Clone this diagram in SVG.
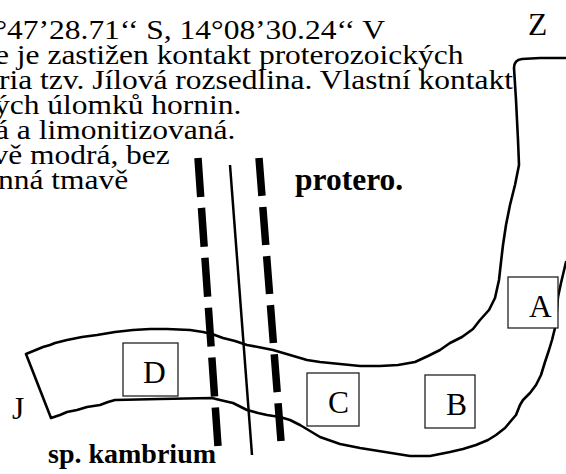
<svg xmlns="http://www.w3.org/2000/svg" width="566" height="474" viewBox="0 0 566 474">
  <style>
    .t { font-family: "Liberation Serif", "Times New Roman", serif; font-size: 31.5px; fill: #000; }
    .s { font-family: "Liberation Serif", "Times New Roman", serif; font-size: 27.5px; fill: #000; }
    .b { font-weight: bold; }
    .outline { fill: none; stroke: #000; stroke-width: 2.6; stroke-linejoin: round; stroke-linecap: round; }
    .box { fill: #fff; stroke: #222; stroke-width: 1.3; }
    .fault { fill: none; stroke: #000; stroke-width: 7.5; stroke-linecap: butt; }
    .axis { fill: none; stroke: #000; stroke-width: 2.5; }
  </style>

  <!-- description text, cut at the left margin (wide setting) -->
  <g id="description">
    <text class="s" transform="translate(-5.5,39) scale(1.145,1)">°47’28.71‘‘ S, 14°08’30.24‘‘ V</text>
    <text class="s" transform="translate(-5,64) scale(1.145,1)">e je zastižen kontakt proterozoických</text>
    <text class="s" transform="translate(-1,89) scale(1.145,1)">ria tzv. Jílová rozsedlina. Vlastní kontakt</text>
    <text class="s" transform="translate(-6,114) scale(1.145,1)">ých úlomků hornin.</text>
    <text class="s" transform="translate(-5,139) scale(1.145,1)">á a limonitizovaná.</text>
    <text class="s" transform="translate(-7.6,164) scale(1.145,1)">vě modrá, bez</text>
    <text class="s" transform="translate(-2,189) scale(1.145,1)">nná tmavě</text>
  </g>

  <!-- outcrop outline: hook-shaped band -->
  <g id="outcrop">
    <path class="outline" d="M566,58 L540,58 L522,59 Q514,60 514,68 L516,100 L518,140 L519,165 L515,185 L510,205 L506,225 L503,245 L501,262 L499,280 L495,298 L489,310 L480,320 L473,329 L462,337 L450,343 L440,350 L428,356 L415,362 L398,365 L380,366 L360,366 L340,364 L320,362 L307,360 L290,355 L273,350 L258,347 L247,345 L235,341 L223,338 L212,334 L203,332 L190,330 L167,329 L150,329 L133,330 L115,332 L97,335 L82,337 L67,340 L55,343 L50,345 L43,347 L26,354 L51,418 L60,415 L67,412 L77,410 L87,407 L100,405 L108,402 L115,400 L160,399 L212,398 L220,400 L233,403 L247,410 L258,413 L267,415 L280,417 L290,420 L300,425 L310,431 L320,437 L340,444 L360,448 L385,452 L410,456 L430,456 L450,452 L463,449 L476,445 L488,440 L496,435 L505,428 L510,422 L516,415 L520,405 L523,400 L530,393 L536,385 L541,375 L545,362 L549,350 L552,340 L555,328 L557,310 L558,297 L561,283 L566,262"/>
  </g>

  <!-- fault zone: two dashed margins and the central plane -->
  <g id="fault-zone">
    <line class="fault" x1="198" y1="158" x2="218" y2="446" stroke-dasharray="39 11"/>
    <line class="axis" x1="230" y1="165" x2="252" y2="455"/>
    <line class="fault" x1="259" y1="158" x2="281" y2="441" stroke-dasharray="38 11.2"/>
  </g>

  <!-- sampling points -->
  <g id="point-A">
    <rect class="box" x="508" y="277" width="50" height="51"/>
    <text class="t" x="529" y="317">A</text>
  </g>
  <g id="point-B">
    <rect class="box" x="425" y="375" width="50" height="53"/>
    <text class="t" x="446" y="415">B</text>
  </g>
  <g id="point-C">
    <rect class="box" x="307" y="373" width="52" height="53"/>
    <text class="t" x="328" y="413">C</text>
  </g>
  <g id="point-D">
    <rect class="box" x="123" y="343" width="55" height="53"/>
    <text class="t" x="143" y="383">D</text>
  </g>

  <!-- orientation and unit labels -->
  <g id="labels">
    <text class="t" x="528" y="35">Z</text>
    <text class="t" x="12" y="419">J</text>
    <text class="t b" x="295" y="190">protero.</text>
    <text class="t b" x="48" y="463" style="font-size:28px">sp. kambrium</text>
  </g>
</svg>
